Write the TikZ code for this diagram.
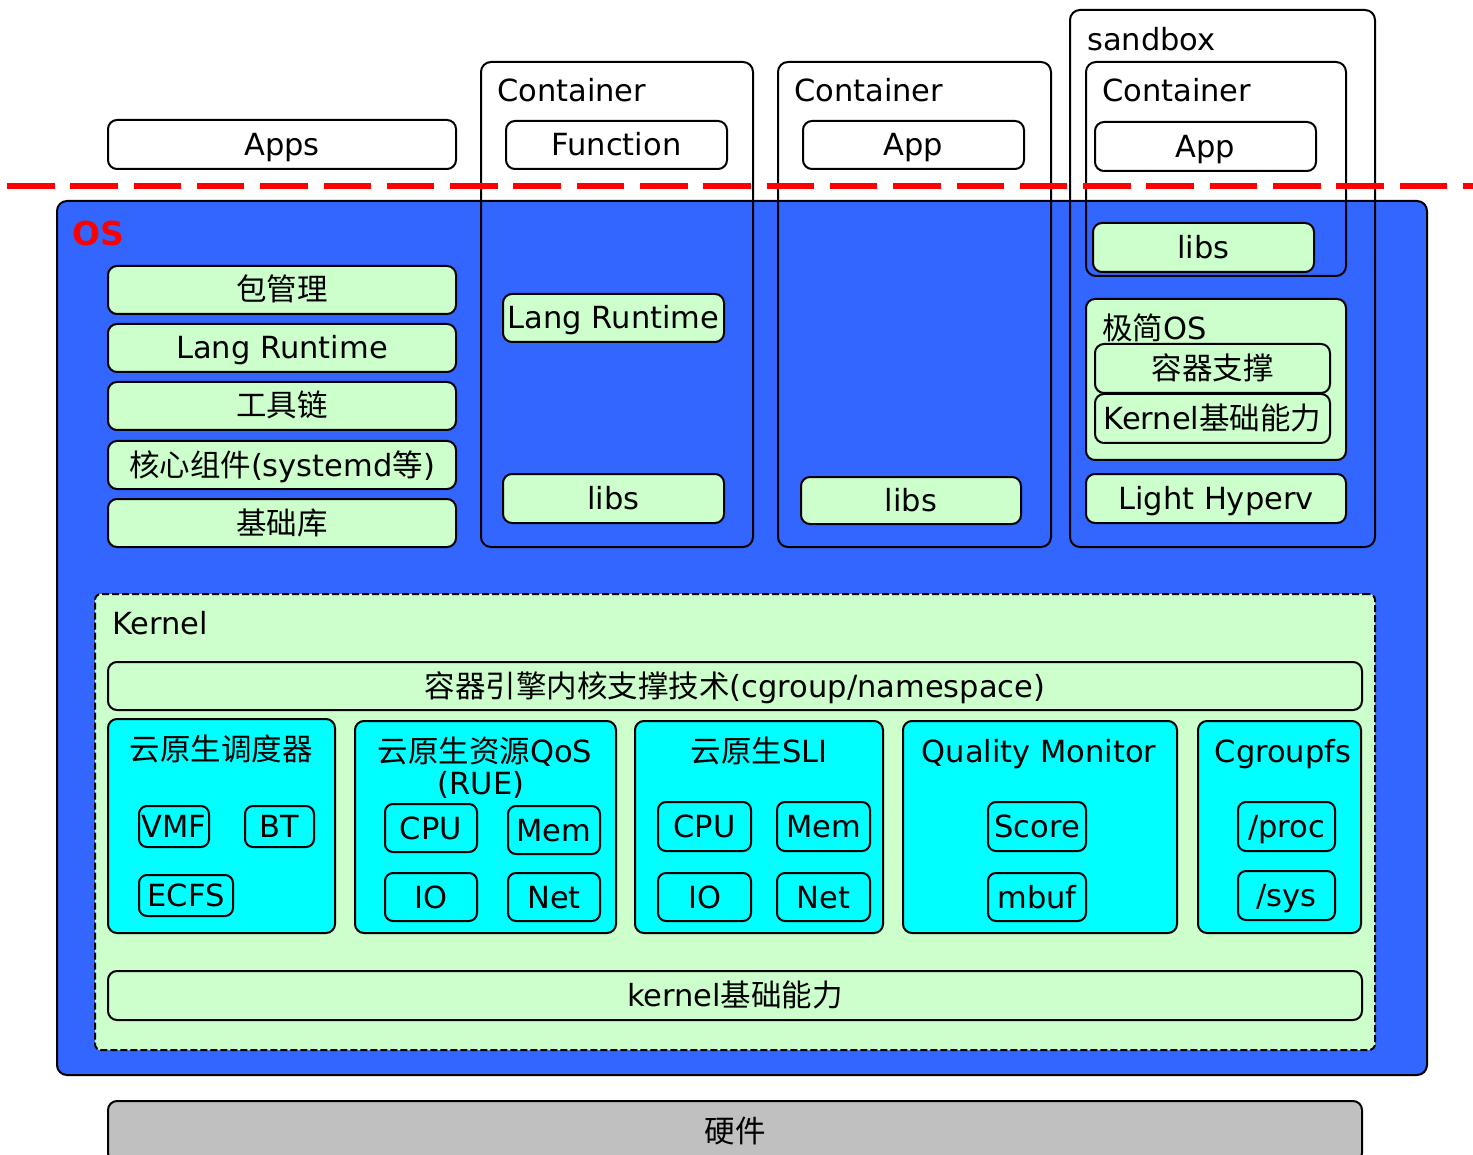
\documentclass[tikz,border=0pt]{standalone}
\usepackage{fontspec}
\setmainfont{DejaVu Sans}
\newfontfamily\cjk{Noto Sans CJK SC}
\newcommand\zh[1]{{\cjk #1}}
\definecolor{osblue}{HTML}{3366FF}
\definecolor{lgreen}{HTML}{CCFFCC}
\definecolor{cyanbox}{HTML}{00FFFF}
\definecolor{hwgray}{HTML}{C0C0C0}
% box from corner (x1,y1) to corner (x2,y2), in pixel-like units
\newcommand\blk[7]{\node[#6, minimum width={(#4)-(#2)}, minimum height={(#5)-(#3)}]
  (#1) at ({((#2)+(#4))/2},{((#3)+(#5))/2}) {#7};}
\tikzset{
  txt/.style={font=\fontsize{30.5}{34}\selectfont, text height=22pt, text depth=0pt},
  base/.style={txt, draw=black, line width=2pt, rounded corners=9pt,
    inner sep=0pt, outer sep=0pt},
  wbox/.style={base, fill=white},
  gbox/.style={base, fill=lgreen},
  cbox/.style={base, fill=cyanbox},
  sbox/.style={base, fill=cyanbox, rounded corners=8pt},
  frame/.style={base, rounded corners=10pt},
  lbl/.style={txt, inner sep=0pt, anchor=west},
  ttl/.style={txt, inner sep=0pt},
}
\begin{document}
\begin{tikzpicture}[x=1pt, y=-1pt]
\useasboundingbox (0,0) rectangle (1473,1155);

% operating system layer
\blk{os}{57}{201}{1427}{1075}{base, fill=osblue, rounded corners=10pt}{}
\node[inner sep=0pt, anchor=west, text=red, font=\fontsize{33}{36}\selectfont\bfseries,
  text height=24pt, text depth=0pt] (oslbl) at (72,234) {OS};

% plain apps and the left-hand system stack
\blk{apps}{108}{120}{456}{169}{wbox}{Apps}
\blk{pkg}{108}{266}{456}{314}{gbox}{\zh{包管理}}
\blk{lang}{108}{324}{456}{372}{gbox}{Lang Runtime}
\blk{tool}{108}{382}{456}{430}{gbox}{\zh{工具链}}
\blk{core}{108}{441}{456}{489}{gbox}{\zh{核心组件}(systemd\zh{等})}
\blk{baselib}{108}{499}{456}{547}{gbox}{\zh{基础库}}

% first container: function
\blk{ctA}{481}{62}{753}{547}{frame}{}
\node[lbl] (ctAl) at (497,91) {Container};
\blk{func}{506}{121}{727}{169}{wbox}{Function}
\blk{langA}{503}{294}{724}{342}{gbox}{Lang Runtime}
\blk{libsA}{503}{474}{724}{523}{gbox}{libs}

% second container: app
\blk{ctB}{778}{62}{1051}{547}{frame}{}
\node[lbl] (ctBl) at (794,91) {Container};
\blk{appB}{803}{121}{1024}{169}{wbox}{App}
\blk{libsB}{801}{477}{1021}{524}{gbox}{libs}

% sandbox with its own container and minimal OS
\blk{sbx}{1070}{10}{1375}{547}{frame}{}
\node[lbl] (sbxl) at (1087,40) {sandbox};
\blk{ctC}{1086}{62}{1346}{276}{frame}{}
\node[lbl] (ctCl) at (1102,91) {Container};
\blk{appC}{1095}{122}{1316}{171}{wbox}{App}
\blk{libsC}{1093}{223}{1314}{272}{gbox}{libs}
\blk{minos}{1086}{299}{1346}{460}{gbox}{}
\node[lbl] (minosl) at (1102,329) {\zh{极简}OS};
\blk{ctsup}{1095}{344}{1330}{393}{gbox}{\zh{容器支撑}}
\blk{kcap}{1095}{394}{1330}{443}{gbox}{Kernel\zh{基础能力}}
\blk{hyperv}{1086}{474}{1346}{523}{gbox}{Light Hyperv}

% kernel layer
\blk{kernel}{95}{594}{1375}{1050}{base, fill=lgreen, dashed, dash pattern=on 7pt off 3pt, rounded corners=6pt}{}
\node[lbl] (kernell) at (112,623) {Kernel};
\blk{engine}{108}{662}{1362}{710}{gbox}{\zh{容器引擎内核支撑技术}(cgroup/namespace)}

\blk{sched}{108}{719}{335}{933}{cbox}{}
\node[ttl] (schedt) at (221,749) {\zh{云原生调度器}};
\blk{vmf}{139}{806}{209}{847}{sbox}{VMF}
\blk{bt}{245}{806}{314}{847}{sbox}{BT}
\blk{ecfs}{139}{875}{233}{916}{sbox}{ECFS}

\blk{qos}{355}{721}{616}{933}{cbox}{}
\node[ttl] (qost) at (485,751) {\zh{云原生资源}QoS};
\node[ttl] (qost2) at (481,783) {(RUE)};
\blk{qcpu}{385}{804}{477}{852}{sbox}{CPU}
\blk{qmem}{508}{806}{600}{854}{sbox}{Mem}
\blk{qio}{385}{873}{477}{921}{sbox}{IO}
\blk{qnet}{508}{873}{600}{921}{sbox}{Net}

\blk{sli}{635}{721}{883}{933}{cbox}{}
\node[ttl] (slit) at (759,751) {\zh{云原生}SLI};
\blk{scpu}{658}{802}{751}{851}{sbox}{CPU}
\blk{smem}{777}{802}{870}{851}{sbox}{Mem}
\blk{sio}{658}{873}{751}{921}{sbox}{IO}
\blk{snet}{777}{873}{870}{921}{sbox}{Net}

\blk{qm}{903}{721}{1177}{933}{cbox}{}
\node[ttl] (qmt) at (1039,751) {Quality Monitor};
\blk{score}{988}{802}{1086}{851}{sbox}{Score}
\blk{mbuf}{988}{873}{1086}{921}{sbox}{mbuf}

\blk{cgfs}{1198}{721}{1361}{933}{cbox}{}
\node[ttl] (cgfst) at (1283,751) {Cgroupfs};
\blk{proc}{1238}{802}{1335}{851}{sbox}{/proc}
\blk{sys}{1238}{871}{1335}{920}{sbox}{/sys}

\blk{kbase}{108}{971}{1362}{1020}{gbox}{kernel\zh{基础能力}}

% hardware
\blk{hw}{108}{1101}{1362}{1162}{base, fill=hwgray}{\zh{硬件}}

% boundary between user space and the OS
\coordinate (bl) at (7,186);
\coordinate (br) at (1473,186);
\draw[red, line width=6.5pt, dash pattern=on 47.5pt off 15.8pt] (bl) -- (br);
\end{tikzpicture}
\end{document}
